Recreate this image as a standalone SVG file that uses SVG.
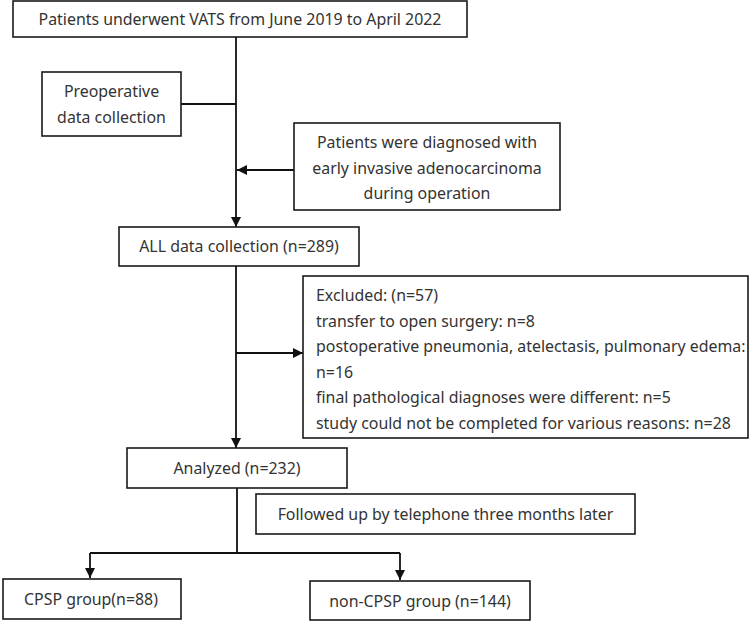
<svg xmlns="http://www.w3.org/2000/svg" width="750" height="621" viewBox="0 0 750 621">
<style>
.box{fill:#fff;stroke:#1a1a1a;stroke-width:1.6}
.t{font-family:"Noto Sans","Liberation Sans",Arial,sans-serif;font-size:15.9px;fill:#333}
.c{text-anchor:middle}
.ln{fill:none;stroke:#111;stroke-width:1.8}
</style>
<defs>
<marker id="arr" markerUnits="userSpaceOnUse" markerWidth="10" markerHeight="10" viewBox="0 0 10 10" refX="10" refY="5" orient="auto">
<path d="M0,0 L10,5 L0,10 z" fill="#111"/>
</marker>
</defs>
<rect width="750" height="621" fill="#fff"/>
<g id="connectors">
<line class="ln" x1="236" y1="37" x2="236" y2="227" marker-end="url(#arr)"/>
<line class="ln" x1="181" y1="104" x2="236" y2="104"/>
<line class="ln" x1="294" y1="170" x2="237" y2="170" marker-end="url(#arr)"/>
<line class="ln" x1="236" y1="266" x2="236" y2="448" marker-end="url(#arr)"/>
<line class="ln" x1="236" y1="353" x2="303" y2="353" marker-end="url(#arr)"/>
<polyline class="ln" points="237,488 237,553"/>
<polyline class="ln" points="90,553 400,553"/>
<line class="ln" x1="90" y1="553" x2="90" y2="578" marker-end="url(#arr)"/>
<line class="ln" x1="400" y1="553" x2="400" y2="580" marker-end="url(#arr)"/>
</g>
<g id="n-start">
<rect class="box" x="13" y="1" width="454" height="36"/>
<text class="t c" x="240" y="25">Patients underwent VATS from June 2019 to April 2022</text>
</g>
<g id="n-preop">
<rect class="box" x="42" y="72" width="139" height="64"/>
<text class="t c" x="111.5" y="97">Preoperative</text>
<text class="t c" x="111.5" y="122.5">data collection</text>
</g>
<g id="n-diagnosed">
<rect class="box" x="294" y="123" width="266" height="87"/>
<text class="t c" x="427" y="148">Patients were diagnosed with</text>
<text class="t c" x="427" y="174">early invasive adenocarcinoma</text>
<text class="t c" x="427" y="199">during operation</text>
</g>
<g id="n-all">
<rect class="box" x="119" y="227" width="240" height="39"/>
<text class="t c" x="239" y="252">ALL data collection (n=289)</text>
</g>
<g id="n-excluded">
<rect class="box" x="303" y="276" width="445" height="162"/>
<text class="t" x="316" y="301">Excluded: (n=57)</text>
<text class="t" x="316" y="326.5">transfer to open surgery: n=8</text>
<text class="t" x="316" y="352">postoperative pneumonia, atelectasis, pulmonary edema:</text>
<text class="t" x="316" y="377.5">n=16</text>
<text class="t" x="316" y="403">final pathological diagnoses were different: n=5</text>
<text class="t" x="316" y="428.5">study could not be completed for various reasons: n=28</text>
</g>
<g id="n-analyzed">
<rect class="box" x="127" y="448" width="220" height="40"/>
<text class="t c" x="237" y="473.5">Analyzed (n=232)</text>
</g>
<g id="n-followup">
<rect class="box" x="256" y="494" width="379" height="40"/>
<text class="t c" x="445.5" y="520">Followed up by telephone three months later</text>
</g>
<g id="n-cpsp">
<rect class="box" x="3" y="579" width="178" height="40"/>
<text class="t c" x="91" y="605">CPSP group(n=88)</text>
</g>
<g id="n-noncpsp">
<rect class="box" x="310" y="581" width="220" height="39"/>
<text class="t c" x="420" y="606.5">non-CPSP group (n=144)</text>
</g>
</svg>
